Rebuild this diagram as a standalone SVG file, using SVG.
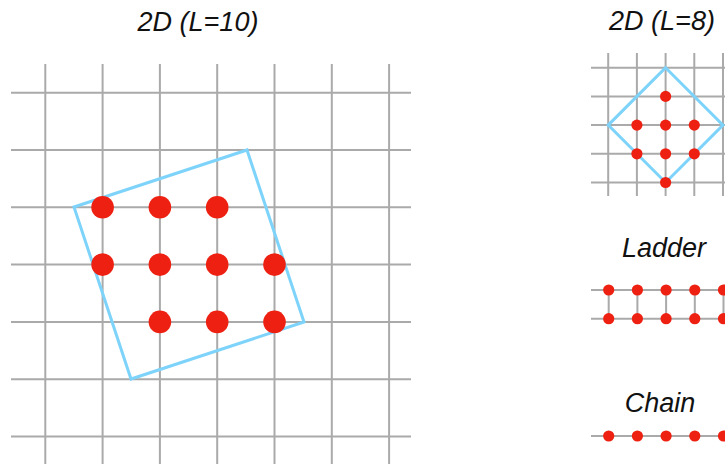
<svg xmlns="http://www.w3.org/2000/svg" width="725" height="464" viewBox="0 0 725 464">
<style>
.g{stroke:#aaaaaa;stroke-width:2;fill:none}
.b{stroke:#7dd3fa;stroke-width:3;fill:none;stroke-linejoin:miter}
.d{fill:#ee2011}
.t{font-family:"Liberation Sans",Arial,sans-serif;font-style:italic;fill:#111;text-anchor:middle}
</style>
<rect width="725" height="464" fill="#fff"/>
<g id="lattice-2d-l10">
<text class="t" x="198" y="31" font-size="27">2D (L=10)</text>
<g class="g">
<path d="M11 92.7H411M11 150H411M11 207.3H411M11 264.6H411M11 321.9H411M11 379.2H411M11 436.5H411"/>
<path d="M45.3 64V464M102.6 64V464M159.9 64V464M217.2 64V464M274.5 64V464M331.8 64V464M389.1 64V464"/>
</g>
<polygon class="b" points="74,207 247,150 304,322 131,379"/>
<g class="d">
<circle cx="102.6" cy="207.3" r="11.3"/><circle cx="159.9" cy="207.3" r="11.3"/><circle cx="217.2" cy="207.3" r="11.3"/>
<circle cx="102.6" cy="264.6" r="11.3"/><circle cx="159.9" cy="264.6" r="11.3"/><circle cx="217.2" cy="264.6" r="11.3"/><circle cx="274.5" cy="264.6" r="11.3"/>
<circle cx="159.9" cy="321.9" r="11.3"/><circle cx="217.2" cy="321.9" r="11.3"/><circle cx="274.5" cy="321.9" r="11.3"/>
</g>
</g>
<g id="lattice-2d-l8">
<text class="t" x="662" y="30" font-size="27">2D (L=8)</text>
<g class="g">
<path d="M591 67.7H725M591 96.4H725M591 125.1H725M591 153.8H725M591 182.5H725"/>
<path d="M608.2 53V196M636.9 53V196M665.6 53V196M694.3 53V196M723 53V196"/>
</g>
<polygon class="b" points="665.6,67.7 723,125.1 665.6,182.5 608.2,125.1"/>
<g class="d">
<circle cx="665.6" cy="96.4" r="5.6"/>
<circle cx="636.9" cy="125.1" r="5.6"/><circle cx="665.6" cy="125.1" r="5.6"/><circle cx="694.3" cy="125.1" r="5.6"/>
<circle cx="636.9" cy="153.8" r="5.6"/><circle cx="665.6" cy="153.8" r="5.6"/><circle cx="694.3" cy="153.8" r="5.6"/>
<circle cx="665.6" cy="182.5" r="5.6"/>
</g>
</g>
<g id="ladder">
<text class="t" x="664" y="257" font-size="27">Ladder</text>
<path class="g" d="M591 290H725M591 318.7H725M608.7 290V318.7M637.4 290V318.7M666.1 290V318.7M694.8 290V318.7M723.5 290V318.7"/>
<g class="d">
<circle cx="608.7" cy="290" r="5.6"/><circle cx="637.4" cy="290" r="5.6"/><circle cx="666.1" cy="290" r="5.6"/><circle cx="694.8" cy="290" r="5.6"/><circle cx="723.5" cy="290" r="5.6"/>
<circle cx="608.7" cy="318.7" r="5.6"/><circle cx="637.4" cy="318.7" r="5.6"/><circle cx="666.1" cy="318.7" r="5.6"/><circle cx="694.8" cy="318.7" r="5.6"/><circle cx="723.5" cy="318.7" r="5.6"/>
</g>
</g>
<g id="chain">
<text class="t" x="660" y="412" font-size="27">Chain</text>
<path class="g" d="M591 436H725"/>
<g class="d">
<circle cx="608.7" cy="436" r="5.6"/><circle cx="637.4" cy="436" r="5.6"/><circle cx="666.1" cy="436" r="5.6"/><circle cx="694.8" cy="436" r="5.6"/><circle cx="723.5" cy="436" r="5.6"/>
</g>
</g>
</svg>
